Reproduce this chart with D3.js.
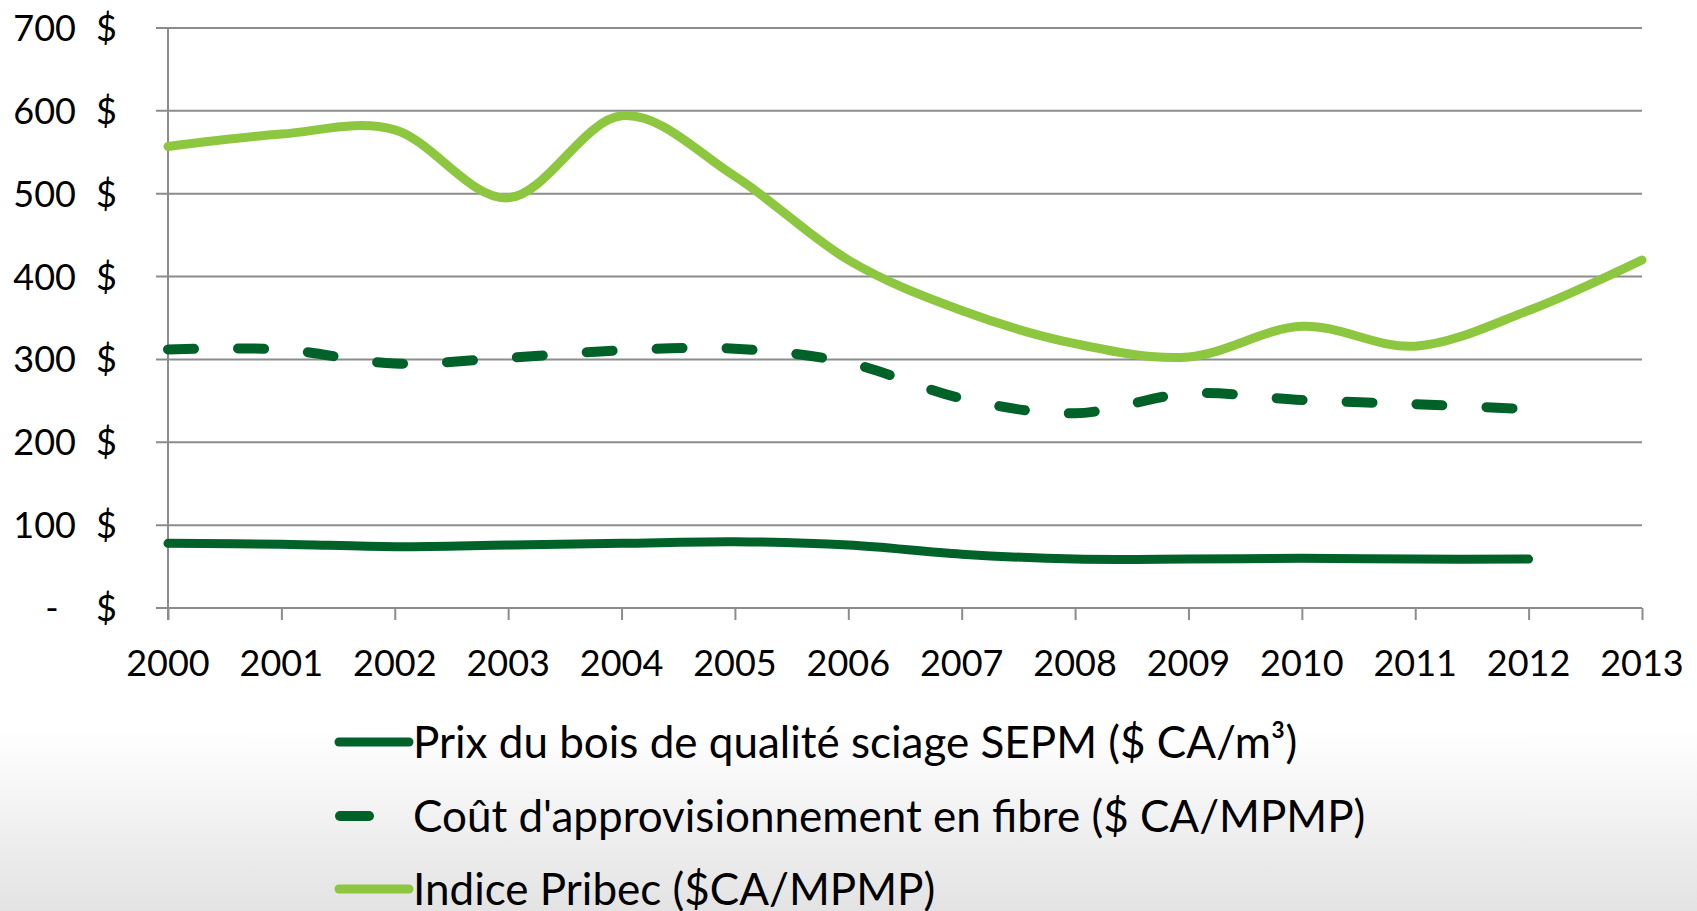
<!DOCTYPE html>
<html>
<head>
<meta charset="utf-8">
<script src="https://cdn.jsdelivr.net/npm/d3@7"></script>
<style>
  html, body { margin: 0; padding: 0; background: #fff; }
  svg { display: block; font-family: Lato, "Open Sans", sans-serif; }
  .grid line { stroke: #8c8c8c; stroke-width: 2; }
  .axis path, .axis line { stroke: #8c8c8c; stroke-width: 2; }
  .lbl { fill: #000; font-size: 36px; }
  .leg { fill: #000; font-size: 44px; }
</style>
</head>
<body>
<svg id="chart"></svg>
<script>
(function () {
  "use strict";
  var W = 1697, H = 911;
  var M = { t: 28, l: 168, r: 55, b: 303 };

  // data
  var years = [2000, 2001, 2002, 2003, 2004, 2005, 2006, 2007, 2008, 2009, 2010, 2011, 2012, 2013];
  var prixSciage = [78, 77, 74, 76, 78, 80, 76, 65, 59, 59, 60, 59, 59];
  var coutFibre = [312, 312, 295, 302, 311, 313, 296, 253, 235, 259, 251, 246, 240];
  var pribec = [557, 572, 577, 495, 594, 521, 420, 359, 319, 303, 340, 316, 359, 420];
  var yTicks = [0, 100, 200, 300, 400, 500, 600, 700];
  var seriesNames = [
    "Prix du bois de qualité sciage SEPM ($ CA/m³)",
    "Coût d'approvisionnement en fibre ($ CA/MPMP)",
    "Indice Pribec ($CA/MPMP)"
  ];

  var series = [
    { name: seriesNames[0], values: prixSciage, color: "#006228", dash: null, width: 9 },
    { name: seriesNames[1], values: coutFibre, color: "#006228", dash: "26 44", width: 10 },
    { name: seriesNames[2], values: pribec, color: "#8dc63f", dash: null, width: 9 }
  ];

  var svg = d3.select("#chart").attr("width", W).attr("height", H);
  var defs = svg.append("defs");
  var grad = defs.append("linearGradient").attr("id", "bg").attr("x1", 0).attr("y1", 0).attr("x2", 0).attr("y2", 1);
  grad.append("stop").attr("offset", "0.8").attr("stop-color", "#ffffff");
  grad.append("stop").attr("offset", "1").attr("stop-color", "#e3e3e3");
  svg.append("rect").attr("width", W).attr("height", H).attr("fill", "url(#bg)");

  var x = d3.scaleLinear().domain([2000, 2013]).range([M.l, W - M.r]);
  var y = d3.scaleLinear().domain([0, 700]).range([608, M.t]);

  // gridlines
  svg.append("g").attr("class", "grid")
    .selectAll("line").data(yTicks).enter().append("line")
    .attr("x1", M.l - 12).attr("x2", x(2013))
    .attr("y1", function (d) { return y(d); }).attr("y2", function (d) { return y(d); });

  // axes
  svg.append("g").attr("class", "axis")
    .attr("transform", "translate(0," + y(0) + ")")
    .call(d3.axisBottom(x).tickValues(years).tickSize(12).tickFormat(""))
    .select(".domain").remove();
  svg.append("line").attr("x1", x(2000)).attr("x2", x(2000)).attr("y1", y(700)).attr("y2", y(0) + 12)
    .attr("stroke", "#8c8c8c").attr("stroke-width", 2);

  // x labels
  svg.append("g").selectAll("text").data(years).enter().append("text")
    .attr("class", "lbl").attr("text-anchor", "middle")
    .attr("x", function (d) { return x(d); }).attr("y", 676).text(function (d) { return d; });

  // y labels (accounting style: number ... $)
  var yl = svg.append("g");
  yl.selectAll("text.num").data(yTicks).enter().append("text")
    .attr("class", "lbl num").attr("text-anchor", function (d) { return d ? "end" : "middle"; })
    .attr("x", function (d) { return d ? 76 : 52; })
    .attr("y", function (d) { return y(d) + 13; })
    .text(function (d) { return d ? d : "-"; });
  yl.selectAll("text.cur").data(yTicks).enter().append("text")
    .attr("class", "lbl cur").attr("text-anchor", "start")
    .attr("x", 96).attr("y", function (d) { return y(d) + 13; }).text("$");

  // lines
  var line = d3.line()
    .x(function (d, i) { return x(years[i]); })
    .y(function (d) { return y(d); })
    .curve(d3.curveCatmullRom.alpha(0));

  series.forEach(function (s) {
    svg.append("path").datum(s.values)
      .attr("d", line).attr("fill", "none")
      .attr("stroke", s.color).attr("stroke-width", s.width)
      .attr("stroke-linecap", "round").attr("stroke-linejoin", "round")
      .attr("stroke-dasharray", s.dash);
  });

  // legend
  var legY = [742, 816, 889];
  var leg = svg.append("g");
  series.forEach(function (s, i) {
    if (s.dash) {
      leg.append("line").attr("x1", 340).attr("x2", 369).attr("y1", legY[i]).attr("y2", legY[i])
        .attr("stroke", s.color).attr("stroke-width", s.width).attr("stroke-linecap", "round");
    } else {
      leg.append("line").attr("x1", 339).attr("x2", 409).attr("y1", legY[i]).attr("y2", legY[i])
        .attr("stroke", s.color).attr("stroke-width", s.width).attr("stroke-linecap", "round");
    }
    leg.append("text").attr("class", "leg").attr("x", 413).attr("y", legY[i] + 16).text(s.name);
  });
})();
</script>
</body>
</html>
